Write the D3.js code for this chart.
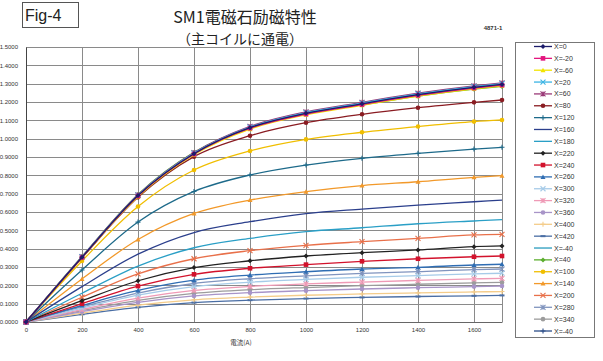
<!DOCTYPE html>
<html>
<head>
<meta charset="utf-8">
<script src="https://cdn.jsdelivr.net/npm/d3@7"></script>
<style>
  html, body { margin: 0; padding: 0; background: #fff; }
  svg { display: block; font-family: "Liberation Sans", "Noto Sans CJK JP", sans-serif; }
</style>
</head>
<body>
<svg id="chart" width="603" height="361"></svg>
<script>
// Excitation current (A)
const currents = [0, 200, 400, 600, 800, 1000, 1200, 1400, 1600, 1700];

// Series labels (position X) in legend order
const seriesNames = ["X=0", "X=-20", "X=-60", "X=20", "X=60", "X=80", "X=120", "X=160", "X=180",
  "X=220", "X=240", "X=260", "X=300", "X=320", "X=360", "X=400", "X=420", "X=-40", "X=40",
  "X=100", "X=140", "X=200", "X=280", "X=340", "X=-40"];

// Measured field values for each series, one per current
const s_0    = [0, 0.353, 0.690, 0.918, 1.060, 1.138, 1.190, 1.240, 1.280, 1.296];
const s_m20  = [0, 0.352, 0.688, 0.916, 1.057, 1.134, 1.186, 1.236, 1.276, 1.292];
const s_m60  = [0, 0.350, 0.684, 0.912, 1.052, 1.130, 1.182, 1.232, 1.272, 1.288];
const s_20   = [0, 0.355, 0.692, 0.921, 1.063, 1.142, 1.194, 1.244, 1.284, 1.300];
const s_60   = [0, 0.356, 0.694, 0.924, 1.067, 1.146, 1.198, 1.248, 1.288, 1.304];
const s_80   = [0, 0.350, 0.680, 0.902, 1.016, 1.087, 1.133, 1.169, 1.198, 1.211];
const s_120  = [0, 0.284, 0.545, 0.712, 0.802, 0.856, 0.893, 0.920, 0.943, 0.953];
const s_160  = [0, 0.193, 0.370, 0.488, 0.547, 0.591, 0.616, 0.638, 0.656, 0.665];
const s_180  = [0, 0.157, 0.305, 0.405, 0.456, 0.493, 0.514, 0.536, 0.551, 0.558];
const s_220  = [0, 0.116, 0.225, 0.297, 0.334, 0.360, 0.378, 0.393, 0.411, 0.415];
const s_240  = [0, 0.100, 0.196, 0.260, 0.293, 0.313, 0.331, 0.345, 0.356, 0.360];
const s_260  = [0, 0.090, 0.172, 0.228, 0.256, 0.274, 0.289, 0.298, 0.311, 0.315];
const s_300  = [0, 0.076, 0.146, 0.193, 0.217, 0.232, 0.244, 0.253, 0.263, 0.266];
const s_320  = [0, 0.068, 0.130, 0.172, 0.194, 0.208, 0.218, 0.227, 0.235, 0.238];
const s_360  = [0, 0.056, 0.107, 0.142, 0.160, 0.171, 0.180, 0.187, 0.193, 0.196];
const s_400  = [0, 0.048, 0.092, 0.121, 0.136, 0.146, 0.153, 0.159, 0.164, 0.166];
const s_420  = [0, 0.042, 0.080, 0.106, 0.119, 0.128, 0.134, 0.139, 0.143, 0.145];
const s_m40a = [0, 0.352, 0.689, 0.917, 1.058, 1.136, 1.188, 1.238, 1.278, 1.294];
const s_40   = [0, 0.357, 0.696, 0.925, 1.062, 1.135, 1.184, 1.232, 1.270, 1.285];
const s_100  = [0, 0.333, 0.630, 0.829, 0.933, 0.996, 1.035, 1.066, 1.093, 1.102];
const s_140  = [0, 0.235, 0.450, 0.592, 0.665, 0.711, 0.744, 0.765, 0.789, 0.798];
const s_200  = [0, 0.135, 0.262, 0.345, 0.389, 0.418, 0.438, 0.456, 0.475, 0.478];
const s_280  = [0, 0.082, 0.158, 0.210, 0.236, 0.252, 0.265, 0.275, 0.286, 0.289];
const s_340  = [0, 0.062, 0.118, 0.156, 0.176, 0.188, 0.198, 0.206, 0.213, 0.216];
const s_m40b = [0, 0.353, 0.691, 0.919, 1.061, 1.139, 1.191, 1.241, 1.281, 1.297];

const seriesValues = [s_0, s_m20, s_m60, s_20, s_60, s_80, s_120, s_160, s_180, s_220, s_240,
  s_260, s_300, s_320, s_360, s_400, s_420, s_m40a, s_40, s_100, s_140, s_200, s_280, s_340, s_m40b];

const seriesColors = ["#1c1c6a", "#e3167e", "#f2e400", "#3bb4e4", "#9a3a78", "#8a1c22", "#1d6a8a",
  "#2b3f8c", "#2a9fc6", "#222222", "#d2122c", "#2f6db3", "#a6cbe8", "#ef9ab6", "#a894c8",
  "#f4cc8a", "#4a6ea4", "#2a9cbe", "#5cae2e", "#f0be00", "#f2992a", "#e8704a", "#8094be",
  "#9c9c9c", "#2c4e88"];

const seriesMarkers = ["diamond", "square", "triangle", "x", "star", "circle", "plus", "none", "none",
  "diamond", "square", "triangle", "x", "star", "circle", "plus", "dash", "none", "diamond",
  "circle", "triangle", "x", "star", "circle", "plus"];

const yTicks = [0, 0.1, 0.2, 0.3, 0.4, 0.5, 0.6, 0.7, 0.8, 0.9, 1.0, 1.1, 1.2, 1.3, 1.4, 1.5];
const xTicks = [0, 200, 400, 600, 800, 1000, 1200, 1400, 1600];

const svg = d3.select("#chart");
const plot = { left: 26, right: 502, top: 47, bottom: 322 };

const x = d3.scaleLinear().domain([0, 1700]).range([plot.left, plot.right]);
const y = d3.scaleLinear().domain([0, 1.5]).range([plot.bottom, plot.top]);

// Header
svg.append("rect").attr("x", 22.5).attr("y", 2.5).attr("width", 56).attr("height", 25)
  .attr("fill", "none").attr("stroke", "#555").attr("stroke-width", 1);
svg.append("text").attr("x", 25).attr("y", 21).attr("font-size", 16)
  .attr("font-family", "Liberation Sans, sans-serif").attr("fill", "#222").text("Fig-4");
svg.append("text").attr("x", 245).attr("y", 23).attr("text-anchor", "middle")
  .attr("font-size", 16).attr("fill", "#222")
  .attr("font-family", "Noto Sans CJK JP, sans-serif").text("SM1電磁石励磁特性");
svg.append("text").attr("x", 240).attr("y", 44).attr("text-anchor", "middle")
  .attr("font-size", 14).attr("fill", "#222")
  .attr("font-family", "Noto Sans CJK JP, sans-serif").text("（主コイルに通電）");
svg.append("text").attr("x", 493).attr("y", 30).attr("text-anchor", "middle")
  .attr("font-size", 6).attr("font-weight", "bold").attr("fill", "#333").text("4871-1");

// Grid
const grid = svg.append("g");
grid.selectAll("line.h").data(yTicks).join("line")
  .attr("x1", plot.left).attr("x2", plot.right)
  .attr("y1", d => Math.round(y(d)) + 0.5).attr("y2", d => Math.round(y(d)) + 0.5)
  .attr("stroke", "#8a8a8a").attr("stroke-width", 1);
grid.selectAll("line.v").data(xTicks.concat([1700])).join("line")
  .attr("y1", plot.top).attr("y2", plot.bottom)
  .attr("x1", d => Math.round(x(d)) + 0.5).attr("x2", d => Math.round(x(d)) + 0.5)
  .attr("stroke", "#8a8a8a").attr("stroke-width", 1);

// Axes
const yAxis = d3.axisLeft(y).tickValues(yTicks).tickFormat(d3.format(".4f")).tickSize(0).tickPadding(8);
const gy = svg.append("g").attr("transform", `translate(${plot.left},0)`).call(yAxis);
gy.select(".domain").attr("stroke", "#444");
gy.selectAll("text").attr("font-size", 6).attr("fill", "#333");

const xAxis = d3.axisBottom(x).tickValues(xTicks).tickFormat(d3.format("d")).tickSize(0).tickPadding(6);
const gx = svg.append("g").attr("transform", `translate(0,${plot.bottom})`).call(xAxis);
gx.select(".domain").attr("stroke", "#666");
gx.selectAll("text").attr("font-size", 6).attr("fill", "#333");

svg.append("text").attr("x", 241).attr("y", 345).attr("text-anchor", "middle")
  .attr("font-size", 6.5).attr("fill", "#333")
  .attr("font-family", "Noto Sans CJK JP, sans-serif").text("電流(A)");

// Marker shapes
function drawMarker(g, type, color, size) {
  const s = size;
  if (type === "diamond") {
    g.append("path").attr("d", `M0,${-s}L${s},0L0,${s}L${-s},0Z`).attr("fill", color);
  } else if (type === "square") {
    g.append("rect").attr("x", -s).attr("y", -s).attr("width", 2 * s).attr("height", 2 * s).attr("fill", color);
  } else if (type === "triangle") {
    g.append("path").attr("d", `M0,${-s}L${s},${s * 0.8}L${-s},${s * 0.8}Z`).attr("fill", color);
  } else if (type === "circle") {
    g.append("circle").attr("r", s).attr("fill", color);
  } else if (type === "x") {
    g.append("path").attr("d", `M${-s},${-s}L${s},${s}M${-s},${s}L${s},${-s}`)
      .attr("stroke", color).attr("stroke-width", 1.1).attr("fill", "none");
  } else if (type === "star") {
    g.append("path").attr("d", `M${-s},${-s}L${s},${s}M${-s},${s}L${s},${-s}M0,${-s}L0,${s}`)
      .attr("stroke", color).attr("stroke-width", 1.1).attr("fill", "none");
  } else if (type === "plus") {
    g.append("path").attr("d", `M${-s},0L${s},0M0,${-s}L0,${s}`)
      .attr("stroke", color).attr("stroke-width", 1.1).attr("fill", "none");
  } else if (type === "dash") {
    g.append("path").attr("d", `M${-s},0L${s},0`)
      .attr("stroke", color).attr("stroke-width", 2).attr("fill", "none");
  }
}

const markerSize = t => (t === "circle" || t === "square") ? 2.3 : 2.5;

// Series lines (last legend entries first, so the first entries sit on top)
const line = d3.line().x((d, i) => x(currents[i])).y(d => y(d)).curve(d3.curveMonotoneX);
const lines = svg.append("g");
const order = d3.range(seriesNames.length).reverse();
order.forEach(k => {
  const g = lines.append("g");
  g.append("path").datum(seriesValues[k]).attr("d", line)
    .attr("fill", "none").attr("stroke", seriesColors[k]).attr("stroke-width", 1.3);
  if (seriesMarkers[k] !== "none") {
    seriesValues[k].forEach((v, i) => {
      const m = g.append("g").attr("transform", `translate(${x(currents[i])},${y(v)})`);
      drawMarker(m, seriesMarkers[k], seriesColors[k], markerSize(seriesMarkers[k]));
    });
  }
});

// Legend
const legend = svg.append("g");
legend.append("rect").attr("x", 515.5).attr("y", 42.5).attr("width", 79).attr("height", 295)
  .attr("fill", "#fff").attr("stroke", "#777").attr("stroke-width", 1);
const ly = d3.scaleLinear().domain([0, seriesNames.length - 1]).range([46.5, 331]);
seriesNames.forEach((name, k) => {
  const g = legend.append("g").attr("transform", `translate(0,${ly(k)})`);
  g.append("line").attr("x1", 534).attr("x2", 552).attr("y1", 0).attr("y2", 0)
    .attr("stroke", seriesColors[k]).attr("stroke-width", 1.3);
  if (seriesMarkers[k] !== "none") {
    const m = g.append("g").attr("transform", "translate(543,0)");
    drawMarker(m, seriesMarkers[k], seriesColors[k], markerSize(seriesMarkers[k]));
  }
  g.append("text").attr("x", 554).attr("y", 2.5).attr("font-size", 7).attr("fill", "#333").text(name);
});
</script>
</body>
</html>
